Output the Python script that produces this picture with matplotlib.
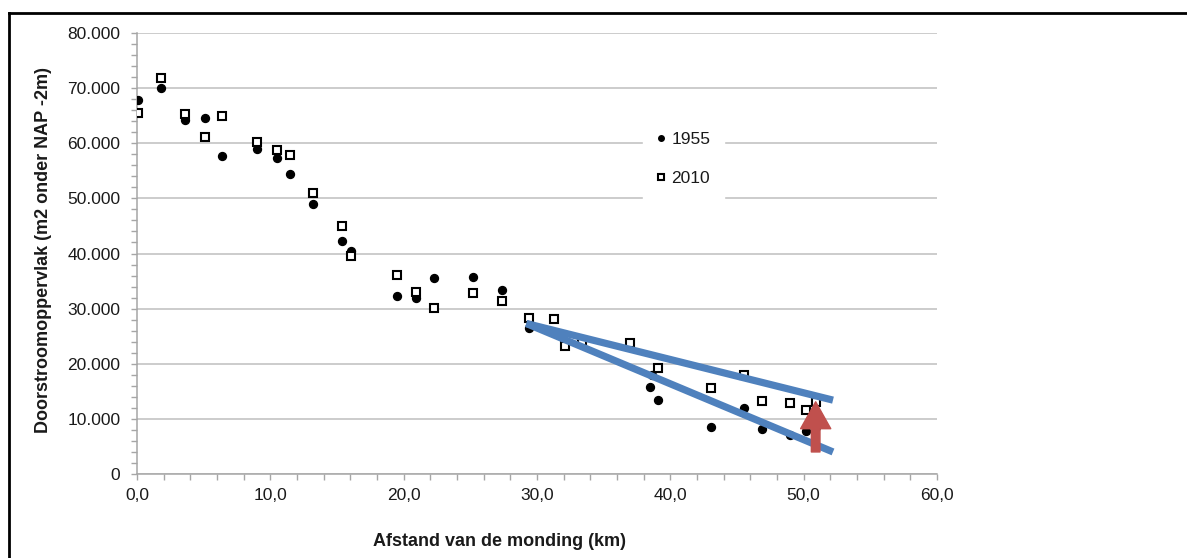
import matplotlib
matplotlib.use("Agg")
import matplotlib.pyplot as plt
from matplotlib.ticker import MultipleLocator, FuncFormatter
from matplotlib.lines import Line2D

plt.rcParams['font.family'] = ['Liberation Sans', 'DejaVu Sans']

# ---- data ----
x_1955 = [0.1, 1.8, 3.6, 5.1, 6.35, 9.0, 10.5, 11.5, 13.2, 15.4, 16.05,
          19.5, 20.95, 22.3, 25.2, 27.35, 29.4, 38.5, 38.6, 39.05, 43.05,
          45.55, 46.9, 48.95, 50.15, 50.95]
y_1955 = [67800, 70000, 64300, 64500, 57600, 58900, 57300, 54500, 49000, 42300, 40500,
          32300, 32000, 35500, 35700, 33300, 26500, 15800, 18000, 13400, 8500,
          12000, 8100, 7000, 7800, 8500]

x_2010 = [0.05, 1.8, 3.6, 5.1, 6.35, 9.0, 10.5, 11.5, 13.2, 15.4, 16.05,
          19.5, 20.95, 22.3, 25.2, 27.35, 29.4, 31.3, 32.1, 33.4, 37.0,
          39.05, 43.05, 45.55, 46.9, 48.95, 50.15, 50.95]
y_2010 = [65500, 71800, 65300, 61200, 64900, 60200, 58700, 57800, 50900, 45000, 39600,
          36100, 33100, 30200, 32800, 31400, 28300, 28200, 23200, 23900, 23800,
          19300, 15600, 17900, 13300, 12900, 11600, 13100]

trend_x = [29.2, 52.2]
trend_upper = [27300, 13400]
trend_lower = [27300, 4000]

arrow_x = 50.9
arrow_y = [4000, 13100]

series_labels = ["1955", "2010"]
x_label = "Afstand van de monding (km)"
y_label = "Doorstroomoppervlak (m2 onder NAP -2m)"

# ---- figure ----
W, H = 1187, 558
fig = plt.figure(figsize=(W / 100, H / 100), dpi=100)
fig.patch.set_facecolor('white')
ax = fig.add_axes([137 / W, 1 - 474 / H, 800 / W, 441 / H])

grid_c = '#bfbfbf'
axis_c = '#a6a6a6'
text_c = '#1a1a1a'

ax.set_xlim(0, 60)
ax.set_ylim(0, 80000)
ax.xaxis.set_major_locator(MultipleLocator(10))
ax.xaxis.set_minor_locator(MultipleLocator(2))
ax.yaxis.set_major_locator(MultipleLocator(10000))
ax.yaxis.set_minor_locator(MultipleLocator(2000))
ax.xaxis.set_major_formatter(FuncFormatter(lambda v, p: f"{v:.1f}".replace('.', ',')))
ax.yaxis.set_major_formatter(FuncFormatter(lambda v, p: f"{int(round(v)):,}".replace(',', '.')))

ax.grid(axis='y', which='major', color=grid_c, lw=1.1, zorder=0)
for s in ['top', 'right']:
    ax.spines[s].set_visible(False)
for s in ['left', 'bottom']:
    ax.spines[s].set_color(axis_c)
    ax.spines[s].set_linewidth(1.1)
ax.tick_params(which='both', direction='out', color=axis_c, length=4, width=1)
ax.tick_params(axis='y', which='major', pad=8, labelsize=12.5, labelcolor=text_c)
ax.tick_params(axis='x', which='major', pad=6, labelsize=12.5, labelcolor=text_c)

ax.plot(x_1955, y_1955, linestyle='none', marker='o', ms=5.7, color='black',
        mec='black', label=series_labels[0], zorder=3)
ax.plot(x_2010, y_2010, linestyle='none', marker='s', ms=5.5, mfc='white',
        mec='black', mew=1.5, label=series_labels[1], zorder=3)

blue = '#4f81bd'
ax.plot(trend_x, trend_upper, color=blue, lw=5.2, solid_capstyle='butt', zorder=4)
ax.plot(trend_x, trend_lower, color=blue, lw=5.2, solid_capstyle='butt', zorder=4)

ax.annotate('', xy=(arrow_x, arrow_y[1]), xytext=(arrow_x, arrow_y[0]),
            arrowprops=dict(arrowstyle='simple,head_length=1.25,head_width=1.4,tail_width=0.4',
                            mutation_scale=15.5, color='#c0504d', shrinkA=0, shrinkB=0),
            zorder=5)

leg = ax.legend(loc='upper left', bbox_to_anchor=(634 / W, 1 - 109 / H),
                bbox_transform=fig.transFigure, fontsize=12.5, markerscale=0.7,
                handlelength=0.5, handletextpad=0.35, labelspacing=1.4,
                borderpad=0.8, frameon=True, fancybox=False)
leg.get_frame().set_facecolor('white')
leg.get_frame().set_edgecolor('white')
leg.get_frame().set_alpha(1)
for t in leg.get_texts():
    t.set_color(text_c)

fig.text(500 / W, 1 - 541 / H, x_label, ha='center', va='center',
         fontsize=13, fontweight='bold', color=text_c)
fig.text(44 / W, 1 - 250 / H, y_label, ha='center', va='center', rotation=90,
         fontsize=13, fontweight='bold', color=text_c)

# outer border (top and left only, as in the reference)
fig.add_artist(Line2D([9 / W, 1.0], [1 - 13 / H, 1 - 13 / H], transform=fig.transFigure,
                      color='black', lw=2))
fig.add_artist(Line2D([9 / W, 9 / W], [1 - 13 / H, 0], transform=fig.transFigure,
                      color='black', lw=2))

fig.savefig('out.png', dpi=100)
